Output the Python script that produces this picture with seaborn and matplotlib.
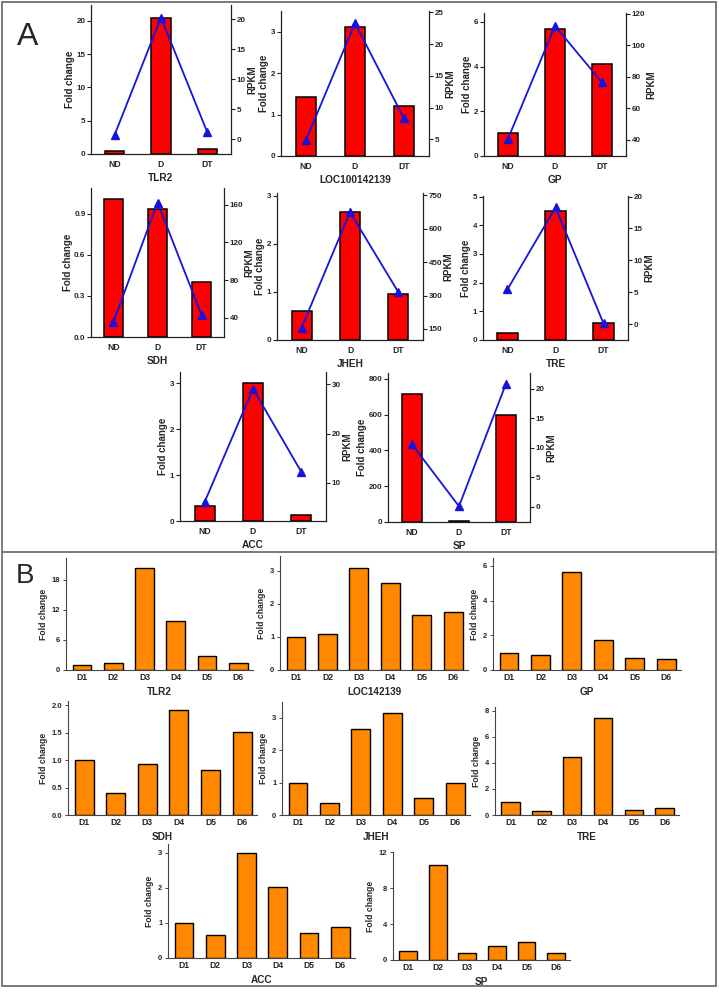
import numpy as np
import pandas as pd
import matplotlib
matplotlib.use("Agg")
import matplotlib.pyplot as plt
import seaborn as sns
from matplotlib.lines import Line2D

# ---------------- data ----------------
groups_A = ["ND", "D", "DT"]
genes_A = ["TLR2", "LOC100142139", "GP", "SDH", "JHEH", "TRE", "ACC", "SP"]
fold_A = [
    [0.5, 20.5, 0.7],
    [1.42, 3.12, 1.2],
    [1.03, 5.68, 4.12],
    [1.01, 0.935, 0.40],
    [0.61, 2.67, 0.95],
    [0.26, 4.48, 0.60],
    [0.33, 3.0, 0.12],
    [716, 3, 596],
]
rpkm_A = [
    [0.7, 20.3, 1.1],
    [4.9, 23.3, 8.3],
    [40.6, 112.3, 76.4],
    [35.3, 162.5, 42.9],
    [156, 675, 315],
    [5.45, 18.3, 0.1],
    [6.1, 29.1, 12.2],
    [10.6, 0.06, 20.9],
]
fold_ticks_A = [[0, 5, 10, 15, 20], [0, 1, 2, 3], [0, 2, 4, 6], [0.0, 0.3, 0.6, 0.9],
                [0, 1, 2, 3], [0, 1, 2, 3, 4, 5], [0, 1, 2, 3], [0, 200, 400, 600, 800]]
rpkm_ticks_A = [[0, 5, 10, 15, 20], [5, 10, 15, 20, 25], [40, 60, 80, 100, 120], [40, 80, 120, 160],
                [150, 300, 450, 600, 750], [0, 5, 10, 15, 20], [10, 20, 30], [0, 5, 10, 15, 20]]

groups_B = ["D1", "D2", "D3", "D4", "D5", "D6"]
genes_B = ["TLR2", "LOC142139", "GP", "SDH", "JHEH", "TRE", "ACC", "SP"]
fold_B = [
    [1.0, 1.5, 20.4, 9.8, 2.8, 1.5],
    [1.0, 1.1, 3.1, 2.64, 1.65, 1.77],
    [1.0, 0.85, 5.68, 1.75, 0.68, 0.63],
    [1.0, 0.41, 0.93, 1.92, 0.83, 1.52],
    [1.0, 0.36, 2.67, 3.15, 0.54, 0.99],
    [1.0, 0.28, 4.48, 7.42, 0.35, 0.55],
    [1.0, 0.66, 3.0, 2.03, 0.70, 0.88],
    [1.0, 10.55, 0.8, 1.6, 2.05, 0.75],
]
fold_ticks_B = [[0, 6, 12, 18], [0, 1, 2, 3], [0, 2, 4, 6], [0.0, 0.5, 1.0, 1.5, 2.0],
                [0, 1, 2, 3], [0, 2, 4, 6, 8], [0, 1, 2, 3], [0, 4, 8, 12]]

# ---------------- layout / style ----------------
W, H = 719, 992
RED = "#FF0000"
BLUE = "#1414DC"
ORANGE = "#FF8800"
SPINE = "#222222"

sns.set_theme(style="ticks")
plt.rcParams['font.family'] = ['Liberation Sans', 'DejaVu Sans']
plt.rcParams['font.weight'] = 'bold'
plt.rcParams['axes.labelweight'] = 'bold'

fig = plt.figure(figsize=(W / 100, H / 100), dpi=100)


def rect(l, t, r, b):
    return [l / W, 1 - b / H, (r - l) / W, (b - t) / H]


boxes_A = [(91, 5, 231, 154), (281, 11, 429, 156), (484, 13, 626, 156),
           (91, 188, 224, 337), (277, 193, 423, 340), (483, 196, 628, 340),
           (180, 372, 326, 521), (388, 373, 530, 522)]
flim_A = [(0, 22.4), (0, 3.5), (0, 6.4), (0, 1.09), (0, 3.06), (0, 5.02), (0, 3.24), (0, 832)]
rlim_A = [(-2.5, 22.4), (2.4, 25.2), (29.7, 120.5), (19.3, 178), (100, 761), (-2.5, 20.1),
          (2.24, 32.5), (-2.6, 22.7)]

boxes_B = [(66, 558, 253, 670), (280, 556, 468, 670), (493, 558, 681, 670),
           (68, 701, 257, 815), (282, 702, 470, 815), (495, 707, 679, 815),
           (168, 844, 355, 958), (393, 852, 570, 960)]
flim_B = [(0, 22.4), (0, 3.45), (0, 6.46), (0, 2.08), (0, 3.49), (0, 8.3), (0, 3.25), (0, 12.05)]

for i, gene in enumerate(genes_A):
    ax = fig.add_axes(rect(*boxes_A[i]))
    df = pd.DataFrame({"grp": groups_A, "fc": fold_A[i], "rpkm": rpkm_A[i]})
    sns.barplot(data=df, x="grp", y="fc", color=RED, width=0.42, edgecolor="black",
                linewidth=1.1, saturation=1, ax=ax)
    ax2 = ax.twinx()
    sns.pointplot(data=df, x="grp", y="rpkm", color=BLUE, markers="^", errorbar=None,
                  markersize=5.5, linewidth=1.3, ax=ax2)
    for a in (ax, ax2):
        a.set_xlim(-0.51, 2.51)
        a.grid(False)
    ax.set_ylim(*flim_A[i])
    ax2.set_ylim(*rlim_A[i])
    ax.set_yticks(fold_ticks_A[i])
    ax2.set_yticks(rpkm_ticks_A[i])
    if gene == "SDH":
        ax.set_yticklabels([f"{v:.1f}" for v in fold_ticks_A[i]])
    ax.spines['top'].set_visible(False)
    ax.spines['right'].set_visible(False)
    ax2.spines['top'].set_visible(False)
    ax2.spines['left'].set_visible(False)
    ax2.spines['bottom'].set_visible(False)
    for sp in ('left', 'bottom'):
        ax.spines[sp].set_color(SPINE)
        ax.spines[sp].set_linewidth(0.9)
    ax2.spines['right'].set_color(SPINE)
    ax2.spines['right'].set_linewidth(0.9)
    ax.tick_params(axis='y', length=3, width=0.8, labelsize=5.8, pad=1, color=SPINE)
    ax.tick_params(axis='x', length=0, labelsize=6.2, pad=4)
    ax2.tick_params(axis='y', length=3, width=0.8, labelsize=5.8, pad=1, color=SPINE)
    ax.set_ylabel("Fold change", fontsize=7.0, labelpad=1)
    ax2.set_ylabel("RPKM", fontsize=7.0, labelpad=1)
    ax.set_xlabel(gene, fontsize=7.3, labelpad=3.5)

for i, gene in enumerate(genes_B):
    ax = fig.add_axes(rect(*boxes_B[i]))
    df = pd.DataFrame({"grp": groups_B, "fc": fold_B[i]})
    sns.barplot(data=df, x="grp", y="fc", color=ORANGE, width=0.6, edgecolor="black",
                linewidth=1.0, saturation=1, ax=ax)
    ax.set_xlim(-0.51, 5.47)
    ax.set_ylim(*flim_B[i])
    ax.set_yticks(fold_ticks_B[i])
    if gene == "SDH":
        ax.set_yticklabels([f"{v:.1f}" for v in fold_ticks_B[i]])
    ax.grid(False)
    ax.spines['top'].set_visible(False)
    ax.spines['right'].set_visible(False)
    for sp in ('left', 'bottom'):
        ax.spines[sp].set_color("#444444")
        ax.spines[sp].set_linewidth(0.8)
    ax.tick_params(axis='y', length=2.5, width=0.7, labelsize=5.5, pad=1.5, color="#444444")
    ax.tick_params(axis='x', length=0, labelsize=6.2, pad=2.5)
    ax.set_ylabel("Fold change", fontsize=6.2, labelpad=3)
    ax.set_xlabel(gene, fontsize=7.2, labelpad=3.5)

# panel letters
fig.text(17 / W, 1 - 37 / H, "A", fontsize=23, fontweight='normal', va='center', ha='left')
fig.text(16 / W, 1 - 576 / H, "B", fontsize=20, fontweight='normal', va='center', ha='left')

# panel frames
frame_kw = dict(color="#7a7a7a", linewidth=1.4, transform=fig.transFigure)
def hline(y, x0, x1):
    fig.add_artist(Line2D([x0 / W, x1 / W], [1 - y / H, 1 - y / H], **frame_kw))
def vline(x, y0, y1):
    fig.add_artist(Line2D([x / W, x / W], [1 - y0 / H, 1 - y1 / H], **frame_kw))

hline(2, 2, 716)
hline(552, 2, 716)
hline(986, 2, 716)
vline(2, 2, 986)
vline(716, 2, 986)

fig.savefig("out.png", dpi=100)
